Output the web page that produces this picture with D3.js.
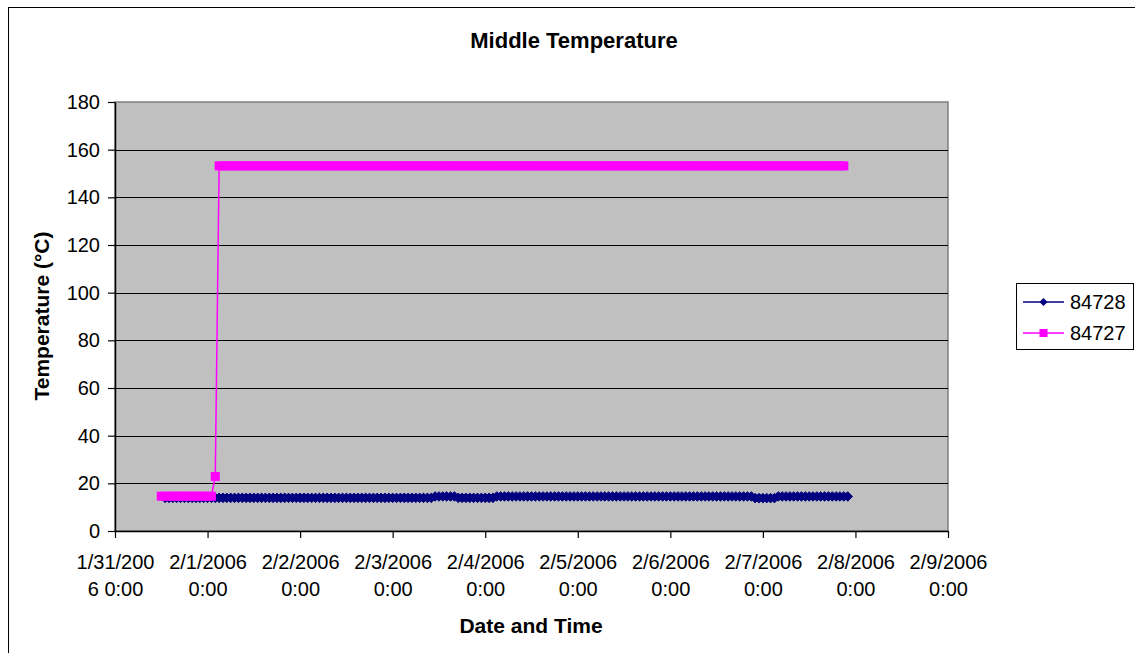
<!DOCTYPE html>
<html>
<head>
<meta charset="utf-8">
<script src="https://cdn.jsdelivr.net/npm/d3@7"></script>
<style>
  html, body { margin: 0; padding: 0; background: #ffffff; }
  svg { display: block; font-family: "Liberation Sans", Arial, sans-serif; }
</style>
</head>
<body>
<svg id="chart" width="1135" height="653"></svg>
<script>
// ---------------- data ----------------
const chartTitle = "Middle Temperature";
const xAxisTitle = "Date and Time";
const yAxisTitle = "Temperature (°C)";

const seriesNames = ["84728", "84727"];

// hourly readings; first reading time for each series
const blueStart = "2006-01-31 13:00";
const pinkStart = "2006-01-31 12:00";

// 84728 (hourly from 1/31 13:00)
const blueValues = [
  13.9,13.9,13.9,13.9,13.9,13.9,13.9,13.9,13.9,13.9,13.9,
  13.9,13.9,13.9,13.9,13.9,13.9,13.9,13.9,13.9,13.9,13.9,13.9,13.9,13.9,13.9,13.9,13.9,13.9,13.9,13.9,13.9,13.9,13.9,13.9,
  13.9,13.9,13.9,13.9,13.9,13.9,13.9,13.9,13.9,13.9,13.9,13.9,13.9,13.9,13.9,13.9,13.9,13.9,13.9,13.9,13.9,13.9,13.9,13.9,
  13.9,13.9,13.9,13.9,13.9,13.9,13.9,13.9,13.9,13.9,13.9,14.5,14.5,14.5,14.5,14.5,14.5,13.9,13.9,13.9,13.9,13.9,13.9,13.9,
  13.9,13.9,13.9,14.5,14.5,14.5,14.5,14.5,14.5,14.5,14.5,14.5,14.5,14.5,14.5,14.5,14.5,14.5,14.5,14.5,14.5,14.5,14.5,14.5,
  14.5,14.5,14.5,14.5,14.5,14.5,14.5,14.5,14.5,14.5,14.5,14.5,14.5,14.5,14.5,14.5,14.5,14.5,14.5,14.5,14.5,14.5,14.5,14.5,
  14.5,14.5,14.5,14.5,14.5,14.5,14.5,14.5,14.5,14.5,14.5,14.5,14.5,14.5,14.5,14.5,14.5,14.5,14.5,14.5,14.5,14.5,13.8,13.8,
  13.8,13.8,13.8,13.8,14.5,14.5,14.5,14.5,14.5,14.5,14.5,14.5,14.5,14.5,14.5,14.5,14.5,14.5,14.5,14.5,14.5,14.5,14.5
];

// 84727 (hourly from 1/31 12:00)
const pinkValues = [
  14.6,14.6,14.6,14.6,14.6,14.6,14.6,14.6,14.6,14.6,14.6,14.6,
  14.6,14.6,22.9,153.2,153.2,153.2,153.2,153.2,153.2,153.2,153.2,153.2,153.2,153.2,153.2,153.2,153.2,153.2,153.2,153.2,153.2,153.2,153.2,153.2,
  153.2,153.2,153.2,153.2,153.2,153.2,153.2,153.2,153.2,153.2,153.2,153.2,153.2,153.2,153.2,153.2,153.2,153.2,153.2,153.2,153.2,153.2,153.2,153.2,
  153.2,153.2,153.2,153.2,153.2,153.2,153.2,153.2,153.2,153.2,153.2,153.2,153.2,153.2,153.2,153.2,153.2,153.2,153.2,153.2,153.2,153.2,153.2,153.2,
  153.2,153.2,153.2,153.2,153.2,153.2,153.2,153.2,153.2,153.2,153.2,153.2,153.2,153.2,153.2,153.2,153.2,153.2,153.2,153.2,153.2,153.2,153.2,153.2,
  153.2,153.2,153.2,153.2,153.2,153.2,153.2,153.2,153.2,153.2,153.2,153.2,153.2,153.2,153.2,153.2,153.2,153.2,153.2,153.2,153.2,153.2,153.2,153.2,
  153.2,153.2,153.2,153.2,153.2,153.2,153.2,153.2,153.2,153.2,153.2,153.2,153.2,153.2,153.2,153.2,153.2,153.2,153.2,153.2,153.2,153.2,153.2,153.2,
  153.2,153.2,153.2,153.2,153.2,153.2,153.2,153.2,153.2,153.2,153.2,153.2,153.2,153.2,153.2,153.2,153.2,153.2,153.2,153.2,153.2,153.2
];

const yTicks = [0, 20, 40, 60, 80, 100, 120, 140, 160, 180];
const xTickDates = ["2006-01-31","2006-02-01","2006-02-02","2006-02-03","2006-02-04",
                    "2006-02-05","2006-02-06","2006-02-07","2006-02-08","2006-02-09"];
const xTickLabels = [
  ["1/31/200", "6 0:00"], ["2/1/2006", "0:00"], ["2/2/2006", "0:00"], ["2/3/2006", "0:00"],
  ["2/4/2006", "0:00"], ["2/5/2006", "0:00"], ["2/6/2006", "0:00"], ["2/7/2006", "0:00"],
  ["2/8/2006", "0:00"], ["2/9/2006", "0:00"]
];

// ---------------- drawing ----------------
const svg = d3.select("#chart");
const parseHour = d3.timeParse("%Y-%m-%d %H:%M");
const parseDay = d3.timeParse("%Y-%m-%d");

const plot = { left: 115, top: 102, right: 948, bottom: 531 };

const x = d3.scaleTime()
  .domain([parseDay(xTickDates[0]), parseDay(xTickDates[xTickDates.length - 1])])
  .range([plot.left, plot.right]);
const y = d3.scaleLinear().domain([0, 180]).range([plot.bottom, plot.top]);

function toPoints(startStr, values) {
  const s = parseHour(startStr);
  return values.map((v, i) => ({ t: d3.timeHour.offset(s, i), v }));
}
const blueData = toPoints(blueStart, blueValues);
const pinkData = toPoints(pinkStart, pinkValues);

// outer chart frame
svg.append("rect")
  .attr("x", 8.5).attr("y", 7.5).attr("width", 1200).attr("height", 700)
  .attr("fill", "#ffffff").attr("stroke", "#000000").attr("stroke-width", 1);

// plot area
svg.append("rect")
  .attr("x", plot.left).attr("y", plot.top)
  .attr("width", plot.right - plot.left).attr("height", plot.bottom - plot.top)
  .attr("fill", "#c0c0c0").attr("stroke", "#808080").attr("stroke-width", 1.5);

// gridlines
svg.append("g").selectAll("line")
  .data(yTicks.filter(d => d > 0 && d < 180))
  .join("line")
  .attr("x1", plot.left).attr("x2", plot.right)
  .attr("y1", d => Math.round(y(d)) + 0.5).attr("y2", d => Math.round(y(d)) + 0.5)
  .attr("stroke", "#000000").attr("stroke-width", 1);

// y axis
const yAxis = svg.append("g")
  .attr("transform", `translate(${plot.left},0)`)
  .call(d3.axisLeft(y).tickValues(yTicks).tickSize(7).tickPadding(8).tickSizeOuter(0));
yAxis.select(".domain").attr("stroke", "#000").attr("stroke-width", 1.5);
yAxis.selectAll(".tick line").attr("stroke", "#000").attr("stroke-width", 1.2);
yAxis.selectAll(".tick text")
  .attr("font-size", 20).attr("fill", "#000")
  .attr("font-family", "Liberation Sans, Arial, sans-serif");

// x axis
const xAxis = svg.append("g")
  .attr("transform", `translate(0,${plot.bottom})`)
  .call(d3.axisBottom(x).tickValues(xTickDates.map(parseDay)).tickSize(7).tickSizeOuter(0).tickFormat(() => ""));
xAxis.select(".domain").attr("stroke", "#000").attr("stroke-width", 1.5);
xAxis.selectAll(".tick line").attr("stroke", "#000").attr("stroke-width", 1.2);
xAxis.selectAll(".tick text").remove();
xAxis.selectAll(".tick").each(function(d, i) {
  const t = d3.select(this).append("text")
    .attr("text-anchor", "middle")
    .attr("font-size", 20).attr("fill", "#000")
    .attr("font-family", "Liberation Sans, Arial, sans-serif");
  t.append("tspan").attr("x", 0).attr("y", 38).text(xTickLabels[i][0]);
  t.append("tspan").attr("x", 0).attr("y", 65).text(xTickLabels[i][1]);
});

// series lines
const line = d3.line().x(d => x(d.t)).y(d => y(d.v));
const blueColor = "#000080", pinkColor = "#ff00ff";

svg.append("path").datum(blueData)
  .attr("d", line).attr("fill", "none").attr("stroke", blueColor).attr("stroke-width", 1.5);
const diamond = d3.symbol().type(d3.symbolDiamond2).size(58);
svg.append("g").selectAll("path").data(blueData).join("path")
  .attr("transform", d => `translate(${x(d.t)},${y(d.v)})`)
  .attr("d", diamond).attr("fill", blueColor).attr("stroke", blueColor).attr("stroke-width", 1);

svg.append("path").datum(pinkData)
  .attr("d", line).attr("fill", "none").attr("stroke", pinkColor).attr("stroke-width", 1.5);
svg.append("g").selectAll("rect").data(pinkData).join("rect")
  .attr("x", d => x(d.t) - 4.5).attr("y", d => y(d.v) - 4.5)
  .attr("width", 9).attr("height", 9).attr("fill", pinkColor);

// title
svg.append("text")
  .attr("x", 574).attr("y", 48).attr("text-anchor", "middle")
  .attr("font-size", 22).attr("font-weight", "bold").text(chartTitle);

// axis titles
svg.append("text")
  .attr("x", 531).attr("y", 633).attr("text-anchor", "middle")
  .attr("font-size", 21).attr("font-weight", "bold").text(xAxisTitle);
svg.append("text")
  .attr("transform", "translate(49,316) rotate(-90)").attr("text-anchor", "middle")
  .attr("font-size", 21).attr("font-weight", "bold").text(yAxisTitle);

// legend
const legend = svg.append("g");
legend.append("rect")
  .attr("x", 1016.5).attr("y", 283.5).attr("width", 117).attr("height", 66)
  .attr("fill", "#ffffff").attr("stroke", "#000000").attr("stroke-width", 1);
const legendDiamond = d3.symbol().type(d3.symbolDiamond2).size(40);
const legendItems = [
  { name: seriesNames[0], color: blueColor, shape: "diamond", y: 302 },
  { name: seriesNames[1], color: pinkColor, shape: "square", y: 333 }
];
legendItems.forEach(it => {
  legend.append("line")
    .attr("x1", 1023).attr("x2", 1064).attr("y1", it.y).attr("y2", it.y)
    .attr("stroke", it.color).attr("stroke-width", 1.5);
  if (it.shape === "diamond") {
    legend.append("path").attr("transform", `translate(1043.5,${it.y})`)
      .attr("d", legendDiamond).attr("fill", it.color);
  } else {
    legend.append("rect").attr("x", 1039.5).attr("y", it.y - 4)
      .attr("width", 8).attr("height", 8).attr("fill", it.color);
  }
  legend.append("text").attr("x", 1070).attr("y", it.y + 7)
    .attr("font-size", 20).text(it.name);
});
</script>
</body>
</html>
